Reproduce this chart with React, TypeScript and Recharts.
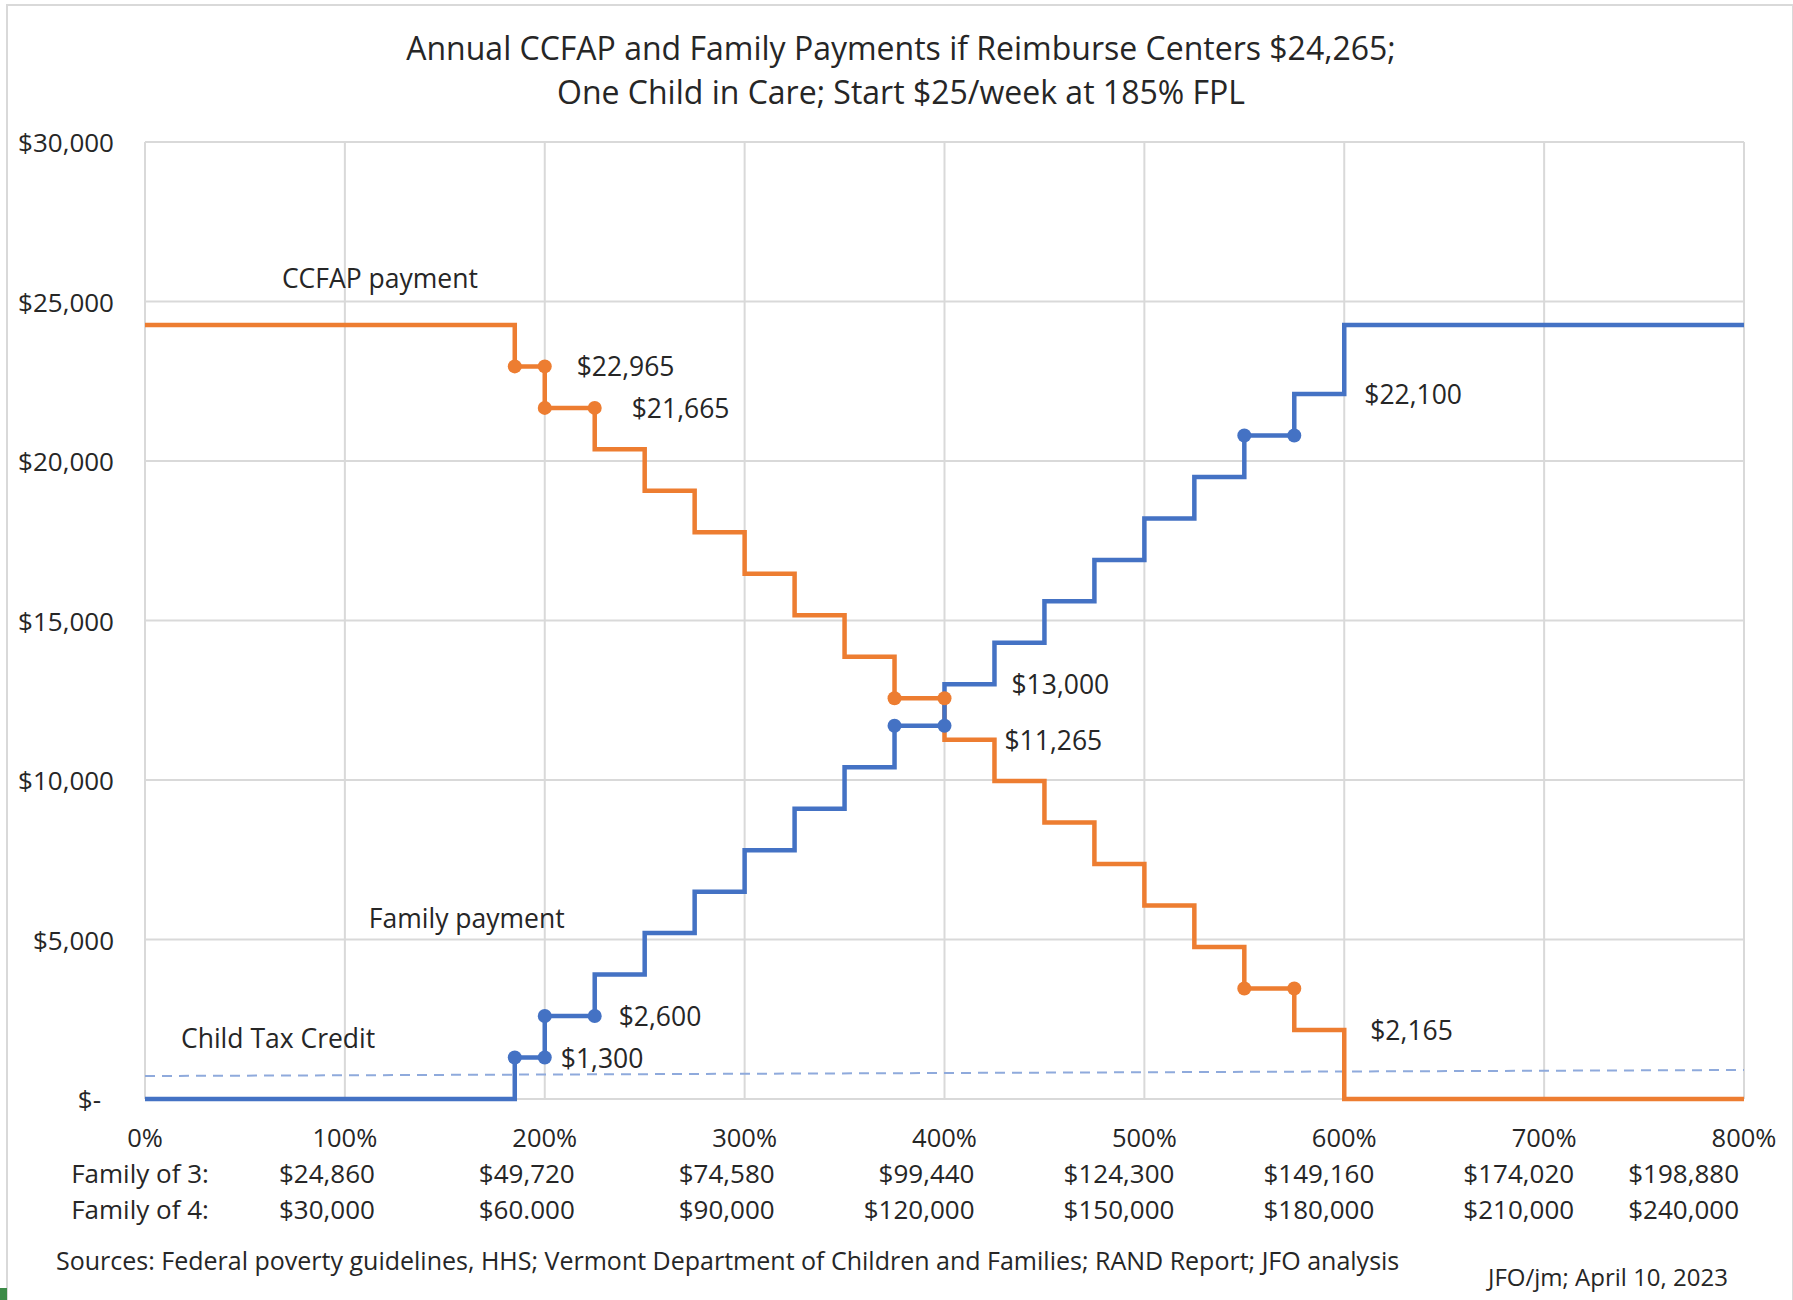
import React from 'react';
import { ComposedChart, Line, Scatter, XAxis, YAxis, CartesianGrid } from 'recharts';

// Income as % of FPL where the payment steps change
const stepPct = [0, 185, 200, 225, 250, 275, 300, 325, 350, 375, 400, 425, 450, 475, 500, 525, 550, 575, 600, 800];
const ccfapPayment = [24265, 22965, 21665, 20365, 19065, 17765, 16465, 15165, 13865, 12565, 11265, 9965, 8665, 7365, 6065, 4765, 3465, 2165, 0, 0];
const familyPayment = [0, 1300, 2600, 3900, 5200, 6500, 7800, 9100, 10400, 11700, 13000, 14300, 15600, 16900, 18200, 19500, 20800, 22100, 24265, 24265];

// Child tax credit reference line
const ctcPct = [0, 800];
const ctcValue = [720, 910];

// Highlighted markers
const markerPct = [185, 200, 200, 225, 375, 400, 550, 575];
const ccfapMarkers = [22965, 22965, 21665, 21665, 12565, 12565, 3465, 3465];
const familyMarkers = [1300, 1300, 2600, 2600, 11700, 11700, 20800, 20800];

// Text annotations placed in chart coordinates
const noteText = ['CCFAP payment', 'Family payment', 'Child Tax Credit', '$22,965', '$21,665', '$22,100', '$13,000', '$11,265', '$2,600', '$1,300', '$2,165'];
const notePct = [68.5, 112, 18, 216, 243.5, 610, 433.5, 430, 237, 208, 613];
const noteValue = [25737, 5674, 1912, 22965, 21665, 22100, 13000, 11265, 2600, 1300, 2165];

// Axis ticks
const xTicks = [0, 100, 200, 300, 400, 500, 600, 700, 800];
const yTicks = [0, 5000, 10000, 15000, 20000, 25000, 30000];
const family3Labels = ['Family of 3:', '$24,860', '$49,720', '$74,580', '$99,440', '$124,300', '$149,160', '$174,020', '$198,880'];
const family4Labels = ['Family of 4:', '$30,000', '$60.000', '$90,000', '$120,000', '$150,000', '$180,000', '$210,000', '$240,000'];

const FONT = "'Open Sans', sans-serif";
const TEXT = '#262626';
const ORANGE = '#ED7D31';
const BLUE = '#4472C4';

const toPoints = (xs: number[], ys: number[]) => xs.map((x, i) => ({ x, y: ys[i] }));

const YTick = (props: any) => {
  const { x, y, payload } = props;
  const isZero = payload.value === 0;
  return (
    <text x={isZero ? x - 13 : x} y={y} textAnchor="end" dominantBaseline="central" fontFamily={FONT} fontSize={26} fill={TEXT}>
      {isZero ? '$-' : '$' + payload.value.toLocaleString('en-US')}
    </text>
  );
};

const XTick = (props: any) => {
  const { x, y, payload, index } = props;
  const anchor = index === 0 ? 'middle' : 'end';
  const dx = index === 0 ? -5 : index === xTicks.length - 1 ? -5 : 30;
  return (
    <g fontFamily={FONT} fill={TEXT}>
      <text x={x} y={y + 38} fontSize={25.5} textAnchor="middle" dominantBaseline="central">{payload.value}%</text>
      <text x={x + dx} y={y + 74} fontSize={26} textAnchor={anchor} dominantBaseline="central">{family3Labels[index]}</text>
      <text x={x + dx} y={y + 110} fontSize={26} textAnchor={anchor} dominantBaseline="central">{family4Labels[index]}</text>
    </g>
  );
};

const NoteShape = (props: any) => (
  <text x={props.cx} y={props.cy} dominantBaseline="central" fontFamily={FONT} fontSize={26.5} fill={TEXT}>
    {props.payload.text}
  </text>
);

const markerShape = (color: string) => (props: any) => <circle cx={props.cx} cy={props.cy} r={7} fill={color} />;

export default function App() {
  const notes = noteText.map((text, i) => ({ x: notePct[i], y: noteValue[i], text }));

  return (
    <div style={{ position: 'absolute', left: 0, top: 0, width: 1793, height: 1300, overflow: 'hidden', background: '#fff', fontFamily: FONT, color: TEXT }}>
      <div style={{ position: 'absolute', left: 6, top: 4, width: 1784, height: 1320, border: '2px solid #D9D9D9' }} />
      <div style={{ position: 'absolute', left: 0, top: 1288, width: 7, height: 12, background: '#3C8A47' }} />
      <div style={{ position: 'absolute', left: 0, width: 1802, top: 26, textAlign: 'center', fontSize: 32, lineHeight: '44px' }}>
        Annual CCFAP and Family Payments if Reimburse Centers $24,265;
        <br />
        One Child in Care; Start $25/week at 185% FPL
      </div>
      <div style={{ position: 'absolute', left: 56, top: 1243, fontSize: 25, whiteSpace: 'nowrap' }}>
        Sources: Federal poverty guidelines, HHS; Vermont Department of Children and Families; RAND Report; JFO analysis
      </div>
      <div style={{ position: 'absolute', left: 1488, top: 1260, fontSize: 24, whiteSpace: 'nowrap' }}>JFO/jm; April 10, 2023</div>

      <div style={{ position: 'absolute', left: 0, top: 0 }}>
        <ComposedChart width={1793} height={1300} margin={{ top: 142, right: 49, bottom: 41, left: 0 }}>
          <CartesianGrid stroke="#D9D9D9" strokeWidth={2} />
          <XAxis
            dataKey="x"
            type="number"
            domain={[0, 800]}
            ticks={xTicks}
            height={160}
            axisLine={false}
            tickLine={false}
            tickSize={0}
            tickMargin={0}
            tick={<XTick />}
            interval={0}
          />
          <YAxis
            dataKey="y"
            type="number"
            domain={[0, 30000]}
            ticks={yTicks}
            width={145}
            axisLine={false}
            tickLine={false}
            tickSize={0}
            tickMargin={31}
            tick={<YTick />}
            interval={0}
          />
          <Line data={toPoints(ctcPct, ctcValue)} dataKey="y" type="linear" stroke="#8FAADC" strokeWidth={2} strokeDasharray="10 7" dot={false} activeDot={false} isAnimationActive={false} />
          <Line data={toPoints(stepPct, ccfapPayment)} dataKey="y" type="stepAfter" stroke={ORANGE} strokeWidth={4.5} dot={false} activeDot={false} isAnimationActive={false} />
          <Line data={toPoints(stepPct, familyPayment)} dataKey="y" type="stepAfter" stroke={BLUE} strokeWidth={4.5} dot={false} activeDot={false} isAnimationActive={false} />
          <Scatter data={toPoints(markerPct, ccfapMarkers)} dataKey="y" shape={markerShape(ORANGE)} isAnimationActive={false} />
          <Scatter data={toPoints(markerPct, familyMarkers)} dataKey="y" shape={markerShape(BLUE)} isAnimationActive={false} />
          <Scatter data={notes} dataKey="y" shape={NoteShape} isAnimationActive={false} />
        </ComposedChart>
      </div>
    </div>
  );
}
